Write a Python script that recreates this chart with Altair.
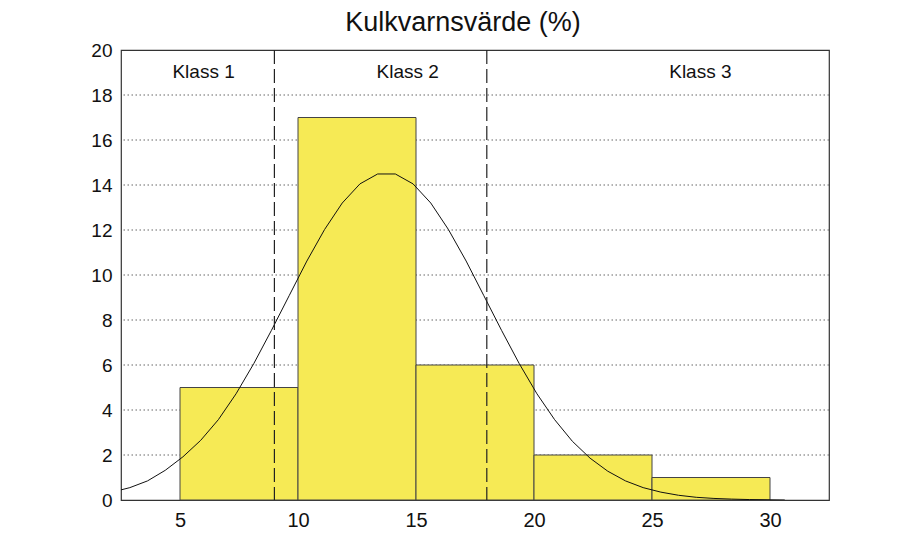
import altair as alt
import pandas as pd

# Histogram data
bin_start = [5, 10, 15, 20, 25]
bin_end = [10, 15, 20, 25, 30]
counts = [5, 17, 6, 2, 1]

# Fitted curve
curve_x = [2.125, 2.875, 3.625, 4.375, 5.125, 5.875, 6.625, 7.375, 8.125, 8.875,
           9.625, 10.375, 11.125, 11.875, 12.625, 13.375, 14.125, 14.875, 15.625,
           16.375, 17.125, 17.875, 18.625, 19.375, 20.125, 20.875, 21.625, 22.375,
           23.125, 23.875, 24.625, 25.375, 26.125, 26.875, 27.625, 28.375, 29.125,
           29.875, 30.625]
curve_y = [0.35, 0.55, 0.85, 1.32, 1.92, 2.65, 3.57, 4.72, 6.06, 7.54,
           9.08, 10.62, 12.02, 13.20, 14.05, 14.49, 14.49, 14.05, 13.20,
           12.02, 10.62, 9.08, 7.54, 6.06, 4.72, 3.57, 2.61, 1.86,
           1.28, 0.85, 0.55, 0.35, 0.21, 0.12, 0.07, 0.04, 0.02,
           0.01, 0.0]

# Class boundaries and labels
class_bounds = [9, 18]
class_labels = ["Klass 1", "Klass 2", "Klass 3"]
class_label_x = [6.0, 14.65, 27.05]
class_label_y = [18.75, 18.75, 18.75]

grid_vals = [2, 4, 6, 8, 10, 12, 14, 16, 18]
x_ticks = [5, 10, 15, 20, 25, 30]
y_ticks = [0, 2, 4, 6, 8, 10, 12, 14, 16, 18, 20]

title_text = "Kulkvarnsvärde (%)"

bars_df = pd.DataFrame({"x0": bin_start, "x1": bin_end, "n": counts})
curve_df = pd.DataFrame({"x": curve_x, "y": curve_y})
bounds_df = pd.DataFrame({"x": class_bounds})
labels_df = pd.DataFrame({"x": class_label_x, "y": class_label_y, "t": class_labels})
grid_df = pd.DataFrame({"y": grid_vals})

FONT = "Liberation Sans"
xscale = alt.Scale(domain=[2.5, 32.5], nice=False, zero=False)
yscale = alt.Scale(domain=[0, 20], nice=False)

grid = alt.Chart(grid_df).mark_rule(
    color="#666666", strokeWidth=1, strokeDash=[1.5, 2.5]
).encode(
    y=alt.Y("y:Q", scale=yscale),
)

bars = alt.Chart(bars_df).mark_rect(
    fill="#f6ea55", stroke="#444444", strokeWidth=1
).encode(
    x=alt.X("x0:Q", scale=xscale,
            axis=alt.Axis(values=x_ticks, title=None, ticks=False, grid=False,
                          domain=False, labelFontSize=20, labelFont=FONT,
                          labelColor="#111111", labelPadding=10)),
    x2="x1:Q",
    y=alt.Y("n:Q", scale=yscale,
            axis=alt.Axis(values=y_ticks, title=None, ticks=False, grid=False,
                          domain=False, labelFontSize=19, labelFont=FONT,
                          labelColor="#111111", labelPadding=9)),
    y2=alt.datum(0),
)

curve = alt.Chart(curve_df).mark_line(
    color="#111111", strokeWidth=1, clip=True
).encode(
    x=alt.X("x:Q", scale=xscale),
    y=alt.Y("y:Q", scale=yscale),
)

bounds = alt.Chart(bounds_df).mark_rule(
    color="#222222", strokeWidth=1.2, strokeDash=[14, 5]
).encode(
    x=alt.X("x:Q", scale=xscale),
)

labels = alt.Chart(labels_df).mark_text(
    font=FONT, fontSize=19, color="#111111", baseline="alphabetic", align="center"
).encode(
    x=alt.X("x:Q", scale=xscale),
    y=alt.Y("y:Q", scale=yscale),
    text="t:N",
)

title = alt.Chart(pd.DataFrame({"t": [title_text]})).mark_text(
    font=FONT, fontSize=27, color="#111111", baseline="alphabetic", align="center"
).encode(
    x=alt.value(342),
    y=alt.value(-19),
    text="t:N",
)

chart = alt.layer(grid, bars, curve, bounds, labels, title).properties(
    width=708,
    height=450,
    background="white",
    autosize=alt.AutoSizeParams(type="none"),
    padding={"left": 113, "top": 42, "right": 70, "bottom": 36},
).configure_view(
    stroke="#333333", strokeWidth=1.2
)

chart.save("out.html", embed_options={"renderer": "svg", "actions": False})
